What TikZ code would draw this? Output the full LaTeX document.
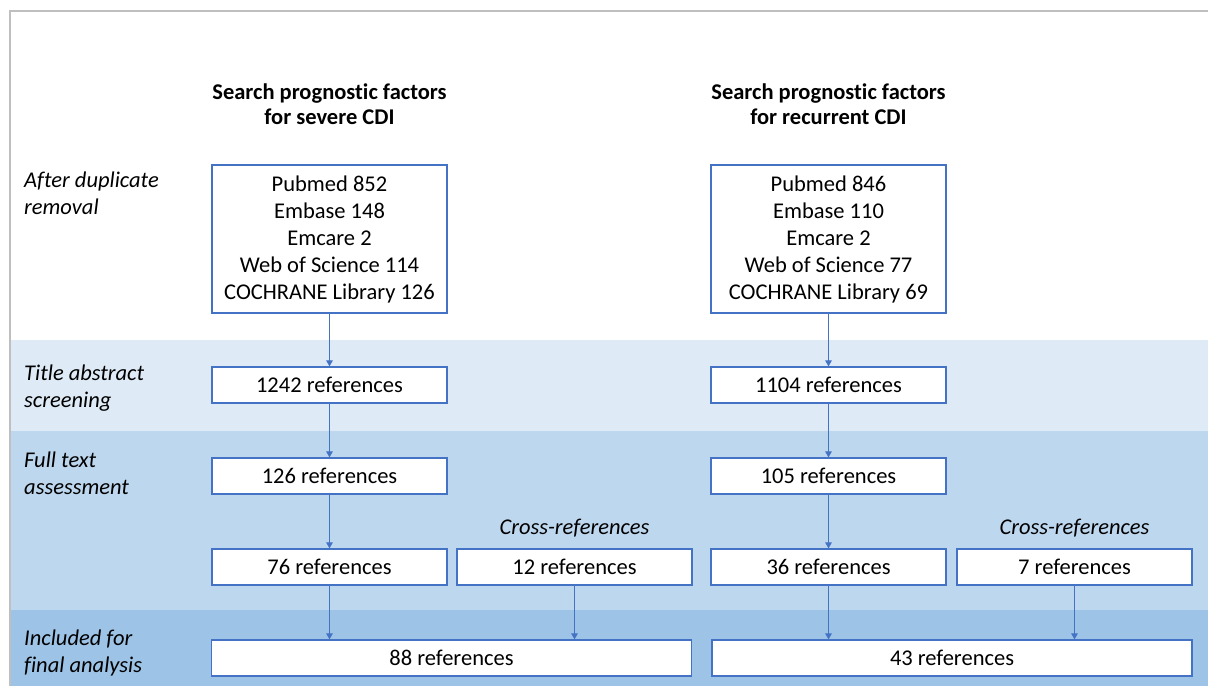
\documentclass[tikz,border=0pt]{standalone}
\usepackage{fontspec}
\setmainfont{Carlito}[Ligatures=NoCommon]
\usetikzlibrary{arrows.meta}
\definecolor{bandA}{HTML}{DEEBF7}
\definecolor{bandB}{HTML}{BDD7EE}
\definecolor{bandC}{HTML}{9DC3E6}
\definecolor{boxline}{HTML}{4472C4}
\definecolor{frame}{HTML}{BFBFBF}
\tikzset{
  box/.style={draw=boxline, line width=1.2pt, fill=white, minimum width=235pt, minimum height=36pt, inner sep=0pt, font=\fontsize{22.5}{27}\selectfont},
  widebox/.style={box, minimum width=480pt},
  bigbox/.style={box, minimum height=148pt, align=center},
  stage/.style={anchor=west, align=left, inner sep=0pt, font=\fontsize{22.5}{27}\selectfont\itshape},
  title/.style={align=center, inner sep=0pt, font=\fontsize{22.5}{25}\selectfont\bfseries},
  xref/.style={inner sep=0pt, font=\fontsize{22.5}{27}\selectfont\itshape},
  flow/.style={draw=boxline, line width=1.1pt, -{Triangle[length=6pt,width=6.5pt]}}
}
\begin{document}
\begin{tikzpicture}[x=1pt,y=-1pt]
\useasboundingbox (0,0) rectangle (1208,686);
% bands
\fill[white] (10,11) rectangle (1208,686);
\fill[bandA] (11,340) rectangle (1208,431);
\fill[bandB] (11,431) rectangle (1208,610);
\fill[bandC] (11,610) rectangle (1208,686);
\draw[frame, line width=1.5pt] (10,686) -- (10,11) -- (1208,11);
% titles
\node[title] (t1) at (329.5,104.5) {Search prognostic factors\\for severe CDI};
\node[title] (t2) at (828.5,104.5) {Search prognostic factors\\for recurrent CDI};
% stage labels
\node[stage] (s1) at (24,193.5) {After duplicate\\removal};
\node[stage] (s2) at (24,388.5) {Title abstract\\screening};
\node[stage] (s3) at (24,473.5) {Full text\\assessment};
\node[stage] (s4) at (24,652.5) {Included for\\final analysis};
% boxes left
\node[bigbox] (a1) at (329.5,239) {Pubmed 852\\Embase 148\\Emcare 2\\Web of Science 114\\COCHRANE Library 126};
\node[box] (a2) at (329.5,385) {1242 references};
\node[box] (a3) at (329.5,476) {126 references};
\node[box] (a4) at (329.5,567) {76 references};
\node[box] (a5) at (574.5,567) {12 references};
\node[widebox] (a6) at (451.5,658) {88 references};
\node[xref] (x1) at (574.5,528) {Cross-references};
% boxes right
\node[bigbox] (b1) at (828.5,239) {Pubmed 846\\Embase 110\\Emcare 2\\Web of Science 77\\COCHRANE Library 69};
\node[box] (b2) at (828.5,385) {1104 references};
\node[box] (b3) at (828.5,476) {105 references};
\node[box] (b4) at (828.5,567) {36 references};
\node[box] (b5) at (1074.5,567) {7 references};
\node[widebox] (b6) at (952,658) {43 references};
\node[xref] (x2) at (1074.5,528) {Cross-references};
% arrows
\draw[flow] (a1.south) -- (a2.north);
\draw[flow] (a2.south) -- (a3.north);
\draw[flow] (a3.south) -- (a4.north);
\draw[flow] (a4.south) -- (a4.south |- a6.north);
\draw[flow] (a5.south) -- (a5.south |- a6.north);
\draw[flow] (b1.south) -- (b2.north);
\draw[flow] (b2.south) -- (b3.north);
\draw[flow] (b3.south) -- (b4.north);
\draw[flow] (b4.south) -- (b4.south |- b6.north);
\draw[flow] (b5.south) -- (b5.south |- b6.north);
\end{tikzpicture}
\end{document}
